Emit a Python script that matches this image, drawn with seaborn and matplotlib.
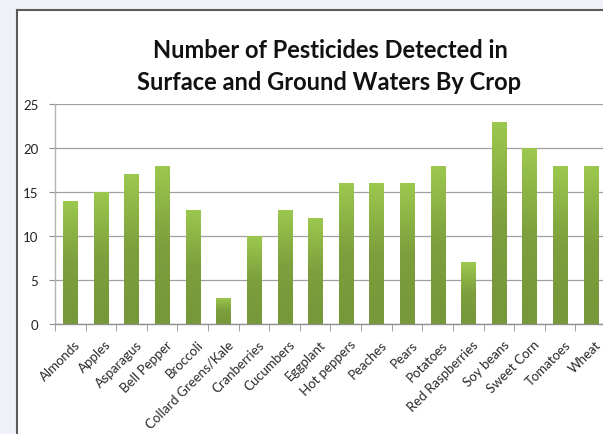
import numpy as np
import pandas as pd
import seaborn as sns
import matplotlib.pyplot as plt
from matplotlib.patches import Rectangle
from matplotlib.colors import LinearSegmentedColormap
import matplotlib.transforms as mtransforms

crops = ['Almonds', 'Apples', 'Asparagus', 'Bell Pepper', 'Broccoli',
         'Collard Greens/Kale', 'Cranberries', 'Cucumbers', 'Eggplant',
         'Hot peppers', 'Peaches', 'Pears', 'Potatoes', 'Red Raspberries',
         'Soy beans', 'Sweet Corn', 'Tomatoes', 'Wheat']
pesticides = [14, 15, 17, 18, 13, 3, 10, 13, 12, 16, 16, 16, 18, 7, 23, 20, 18, 18]
yticks = [0, 5, 10, 15, 20, 25]

df = pd.DataFrame({'crop': crops, 'count': pesticides})

sns.set_style('white')
plt.rcParams['font.family'] = ['Lato', 'DejaVu Sans']

fig = plt.figure(figsize=(6.03, 4.35), dpi=100)
fig.patch.set_facecolor('#eef2f8')
# white chart panel with dark frame, behind the axes
fig.patches.append(Rectangle((17 / 603, -0.01), 1, 1.01 - 11 / 435, transform=fig.transFigure,
                             facecolor='white', edgecolor='#5a5a5a', lw=1.5, zorder=-5))

ax = fig.add_axes([55 / 603, 1 - 325 / 435, 551 / 603, 220 / 435])
ax.set_facecolor('none')
sns.barplot(data=df, x='crop', y='count', ax=ax, width=0.46, color='#86a843',
            edgecolor='none', zorder=3)

# vertical gradient fill for each bar
grad = np.linspace(0, 1, 256).reshape(-1, 1)
cmap = LinearSegmentedColormap.from_list('g', ['#76973a', '#7d9f3d', '#9cc84e'])
for p in list(ax.patches):
    x0, y0 = p.get_x(), p.get_y()
    w, h = p.get_width(), p.get_height()
    im = ax.imshow(grad, cmap=cmap, origin='lower', aspect='auto',
                   extent=[x0, x0 + w, y0, y0 + h], zorder=4)
    im.set_clip_path(p)

ax.set_xlim(-0.5, len(crops) - 0.5)
ax.set_ylim(0, 25)
ax.set_yticks(yticks)
ax.yaxis.grid(True, color='#a0a0a0', lw=0.9)
ax.set_axisbelow(True)
for s in ['top', 'right']:
    ax.spines[s].set_visible(False)
ax.spines['left'].set_color('#b4b4b4')
ax.spines['bottom'].set_color('#909090')
for s in ['left', 'bottom']:
    ax.spines[s].set_linewidth(1.0)

ax.set_xlabel('')
ax.set_ylabel('')
ax.tick_params(axis='y', length=4, color='#909090', labelsize=9.5, labelcolor='#222222', pad=8, left=True)
ax.set_xticks(np.arange(len(crops)))
ax.set_xticks(np.arange(len(crops) + 1) - 0.5, minor=True)
ax.tick_params(axis='x', which='minor', length=5, color='#909090', bottom=True)
ax.tick_params(axis='x', which='major', length=0, pad=10)
ax.set_xticklabels(crops, rotation=45, ha='right', rotation_mode='anchor',
                   fontsize=9.5, color='#2a2a2a')
offset = mtransforms.ScaledTranslation(4 / 100, 0, fig.dpi_scale_trans)
for lbl in ax.get_xticklabels():
    lbl.set_transform(lbl.get_transform() + offset)

fig.text(330 / 603, 1 - 50 / 435, 'Number of Pesticides Detected in', ha='center', va='center',
         fontsize=17, fontweight='bold', color='#111111')
fig.text(329 / 603, 1 - 82 / 435, 'Surface and Ground Waters By Crop', ha='center', va='center',
         fontsize=17, fontweight='bold', color='#111111')

fig.savefig('out.png', dpi=100, facecolor=fig.get_facecolor())
